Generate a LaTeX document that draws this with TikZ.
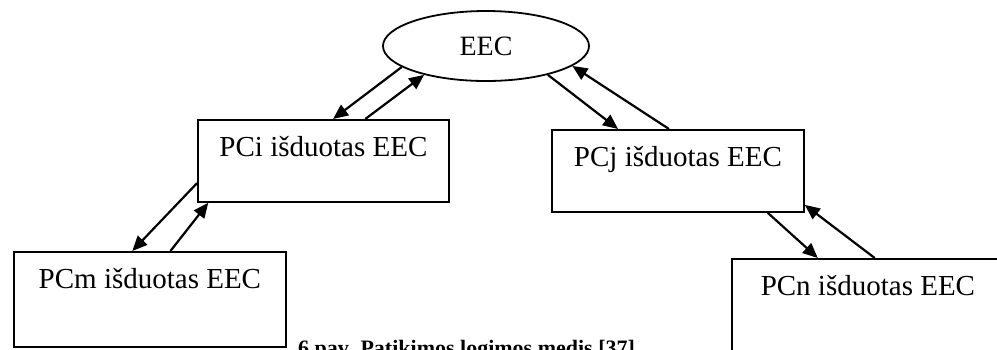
\documentclass[tikz,border=0pt]{standalone}
\usepackage{fontspec}
\setmainfont{Liberation Serif}
\usetikzlibrary{shapes.geometric, arrows.meta}
\tikzstyle{certauth} = [ellipse, draw, line width=1.8pt, minimum width=206pt, minimum height=70pt, inner sep=0pt, font=\fontsize{28}{32}\selectfont]
\tikzstyle{pcbox} = [rectangle, draw, line width=1.8pt, anchor=north west, inner sep=0pt, text height=37pt, font=\fontsize{29}{34}\selectfont]
\tikzstyle{arrow} = [line width=2.2pt, -{Triangle[length=15pt,width=13pt]}]
\tikzstyle{caption} = [anchor=base west, inner sep=0pt, font=\fontsize{22}{26}\selectfont\bfseries]

\begin{document}
\begin{tikzpicture}[x=1pt, y=-1pt]
            \clip (0,0) rectangle (997,349);
            \node [certauth] at (486,46) (eec) {EEC};
            \node [pcbox, minimum width=251pt, text depth=45pt] at (197,119) (pci) {PCi išduotas EEC};
            \node [pcbox, minimum width=252pt, text depth=45pt] at (551,129) (pcj) {PCj išduotas EEC};
            \node [pcbox, minimum width=272pt, text depth=58pt] at (13,251) (pcm) {PCm išduotas EEC};
            \node [pcbox, minimum width=272pt, text depth=58pt] at (731,258) (pcn) {PCn išduotas EEC};
            \node [caption] at (298,355) (fig) {6 pav. Patikimos logimos medis [37]};

            \draw [arrow] (eec.194) -- (pci.77);
            \draw [arrow] (pci.45) -- (eec.205);
            \draw [arrow] (eec.335) -- (pcj.145);
            \draw [arrow] (pcj.102) -- (eec.347);
            \draw [arrow] (pci.190) -- (pcm.110);
            \draw [arrow] (pcm.67) -- (pci.200);
            \draw [arrow] (pcj.335) -- (pcn.136);
            \draw [arrow] (pcn.82) -- (pcj.345);
            \end{tikzpicture}
\end{document}
